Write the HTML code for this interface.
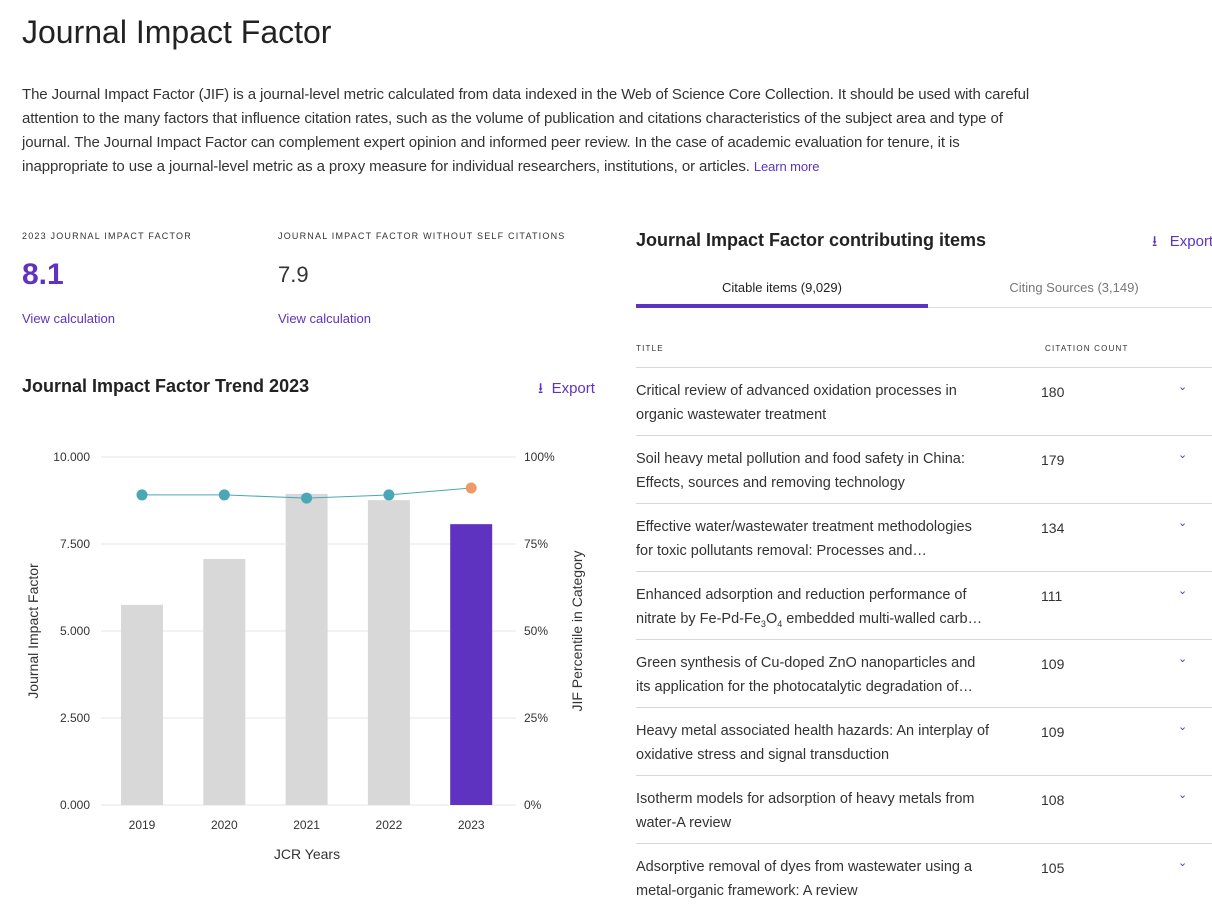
<!DOCTYPE html>
<html><head><meta charset="utf-8">
<style>
*{margin:0;padding:0;box-sizing:border-box}
body{width:1212px;height:902px;overflow:hidden;background:#fff;font-family:"Liberation Sans",sans-serif;color:#222;position:relative}
.a{position:absolute;white-space:nowrap}
.p{font-size:15px;color:#333;line-height:24px;letter-spacing:-0.1px}
.lbl{font-size:9px;letter-spacing:1.2px;color:#333}
.link{color:#5e33bf;font-size:13px}
.row{position:absolute;left:636px;width:576px;height:68px;border-top:1px solid #d8d8d8}
.row .t{position:absolute;left:0;font-size:14.5px;line-height:24px;color:#333;width:380px;white-space:nowrap;overflow:hidden}
.row .c{position:absolute;left:405px;top:12px;font-size:14px;line-height:24px;color:#333}
.row .v{position:absolute;left:542px;top:12px;color:#5e33bf;font-size:11px}
</style></head><body>
<div class="a" style="left:22px;top:14px;font-size:32px;color:#222">Journal Impact Factor</div>
<div>
<div class="a p" style="left:22px;top:83px">The Journal Impact Factor (JIF) is a journal-level metric calculated from data indexed in the Web of Science Core Collection. It should be used with careful</div>
<div class="a p" style="left:22px;top:107px">attention to the many factors that influence citation rates, such as the volume of publication and citations characteristics of the subject area and type of</div>
<div class="a p" style="left:22px;top:131px">journal. The Journal Impact Factor can complement expert opinion and informed peer review. In the case of academic evaluation for tenure, it is</div>
<div class="a p" style="left:22px;top:155px">inappropriate to use a journal-level metric as a proxy measure for individual researchers, institutions, or articles. <span class="link">Learn more</span></div>
</div>
<div class="a lbl" style="left:22px;top:231px">2023 JOURNAL IMPACT FACTOR</div>
<div class="a" style="left:22px;top:258px;font-size:30px;font-weight:bold;color:#5e33bf">8.1</div>
<div class="a link" style="left:22px;top:311px">View calculation</div>
<div class="a lbl" style="left:278px;top:231px">JOURNAL IMPACT FACTOR WITHOUT SELF CITATIONS</div>
<div class="a" style="left:278px;top:262px;font-size:22px;color:#333">7.9</div>
<div class="a link" style="left:278px;top:311px">View calculation</div>

<div class="a" style="left:22px;top:376px;font-size:18px;font-weight:bold;color:#222">Journal Impact Factor Trend 2023</div>
<div class="a" style="left:538px;top:378px;font-size:15px;color:#5e33bf">⭳&nbsp;&nbsp;Export</div>

<svg class="a" style="left:0;top:430px" width="620" height="450" id="chart"></svg>

<div class="a" style="left:636px;top:230px;font-size:18px;font-weight:bold;color:#222">Journal Impact Factor contributing items</div>
<div class="a" style="left:1152px;top:231px;font-size:15px;color:#5e33bf">⭳&nbsp;&nbsp;&nbsp;Export</div>
<div class="a" style="left:636px;top:280px;width:292px;text-align:center;font-size:13px;color:#222">Citable items (9,029)</div>
<div class="a" style="left:928px;top:280px;width:292px;text-align:center;font-size:13px;color:#777">Citing Sources (3,149)</div>
<div class="a" style="left:636px;top:307px;width:576px;height:1px;background:#ddd"></div>
<div class="a" style="left:636px;top:304px;width:292px;height:4px;background:#5e33bf"></div>
<div class="a lbl" style="left:636px;top:344px;font-size:8px">TITLE</div>
<div class="a lbl" style="left:1045px;top:344px;font-size:8px">CITATION COUNT</div>
<div id="rows"></div>

<script>
const years=["2019","2020","2021","2022","2023"];
const jif=[5.75,7.07,8.94,8.76,8.07];
const pct=[89.1,89.1,88.2,89.1,91.1];
const yTicks=[0,2.5,5,7.5,10];
const yTickLabels=["0.000","2.500","5.000","7.500","10.000"];
const pTickLabels=["0%","25%","50%","75%","100%"];
const NS="http://www.w3.org/2000/svg";
const svg=document.getElementById('chart');
const yb=375,yt=27;
const Y=v=>yb-(v/10)*(yb-yt);
const P=v=>yb-(v/100)*(yb-yt);
const X=i=>142+82.3*i;
function mk(t,a){const e=document.createElementNS(NS,t);for(const k in a)e.setAttribute(k,a[k]);svg.appendChild(e);return e;}
yTicks.forEach((v,i)=>{
 const g=mk('line',{x1:101,x2:516,y1:Y(v),y2:Y(v),stroke:'#e6e6e6'});
 
 
 const t=mk('text',{x:90,y:Y(v)+4,'text-anchor':'end','font-size':12,fill:'#333','font-family':'Liberation Sans'});t.textContent=yTickLabels[i];
 
 
 const r=mk('text',{x:524,y:Y(v)+4,'font-size':12,fill:'#333','font-family':'Liberation Sans'});r.textContent=pTickLabels[i];
 
 
});
years.forEach((yr,i)=>{
 const b=mk('rect',{x:X(i)-21,y:Y(jif[i]),width:42,height:yb-Y(jif[i]),fill:i==4?'#5e33bf':'#d8d8d8'});
 
 
 const t=mk('text',{x:X(i),y:399,'text-anchor':'middle','font-size':12,fill:'#333','font-family':'Liberation Sans'});t.textContent=yr;
 
 
});
const pl=mk('polyline',{points:pct.map((v,i)=>X(i)+','+P(v)).join(' '),fill:'none',stroke:'#4ba7b8','stroke-width':1});


pct.forEach((v,i)=>{
 const c=mk('circle',{cx:X(i),cy:P(v),r:5.5,fill:i==4?'#f09a6a':'#4ba7b8'});
 
 
});
let t=mk('text',{x:307,y:429,'text-anchor':'middle','font-size':14,fill:'#333','font-family':'Liberation Sans'});t.textContent='JCR Years';


t=mk('text',{x:0,y:0,transform:'translate(38,201) rotate(-90)','text-anchor':'middle','font-size':14,fill:'#333','font-family':'Liberation Sans'});t.textContent='Journal Impact Factor';


t=mk('text',{x:0,y:0,transform:'translate(582,201) rotate(-90)','text-anchor':'middle','font-size':14,fill:'#333','font-family':'Liberation Sans'});t.textContent='JIF Percentile in Category';



const titles=[["Critical review of advanced oxidation processes in","organic wastewater treatment"],
["Soil heavy metal pollution and food safety in China:","Effects, sources and removing technology"],
["Effective water/wastewater treatment methodologies","for toxic pollutants removal: Processes and…"],
["Enhanced adsorption and reduction performance of","nitrate by Fe-Pd-Fe<sub style='font-size:9px'>3</sub>O<sub style='font-size:9px'>4</sub> embedded multi-walled carb…"],
["Green synthesis of Cu-doped ZnO nanoparticles and","its application for the photocatalytic degradation of…"],
["Heavy metal associated health hazards: An interplay of","oxidative stress and signal transduction"],
["Isotherm models for adsorption of heavy metals from","water-A review"],
["Adsorptive removal of dyes from wastewater using a","metal-organic framework: A review"]];
const counts=[180,179,134,111,109,109,108,105];
const rows=document.getElementById('rows');
titles.forEach((tt,i)=>{
 const r=document.createElement('div');r.className='row';r.style.top=(367+68*i)+'px';
 
 
 r.innerHTML="<div class='t' style='top:11px'>"+tt[0]+"</div><div class='t' style='top:35px'>"+tt[1]+"</div><div class='c'>"+counts[i]+"</div><div class='v'>⌄</div>";
 rows.appendChild(r);
});
</script>
</body></html>
